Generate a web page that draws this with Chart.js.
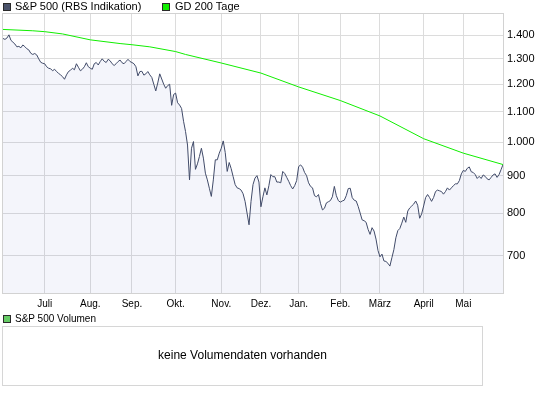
<!DOCTYPE html>
<html>
<head>
<meta charset="utf-8">
<script src="https://cdn.jsdelivr.net/npm/chart.js@4.4.1/dist/chart.umd.min.js"></script>
<style>
body { margin: 0; background: #fff; font-family: Arial, "Liberation Sans", sans-serif; }
#wrap { position: relative; width: 545px; height: 395px; overflow: hidden; }
#c { position: absolute; left: 0; top: 0; }
.lg { position: absolute; color: #000; white-space: nowrap; }
.sq { position: absolute; width: 6px; height: 6px; border: 1px solid #2a2a2a; }
#vol { position: absolute; left: 2px; top: 326px; width: 479px; height: 58px; border: 1px solid #d6d6d6; background: #fff; }
#voltxt { position: absolute; left: 0; top: 21px; width: 479px; text-align: center; font-size: 12px; line-height: 14px; color: #000; }
</style>
</head>
<body>
<div id="wrap">
  <canvas id="c" width="545" height="315"></canvas>
  <div class="sq" style="left:3px;top:3px;background:#4b536b"></div>
  <div class="lg" style="left:15px;top:0px;font-size:11px;line-height:12px">S&amp;P 500 (RBS Indikation)</div>
  <div class="sq" style="left:162px;top:3px;background:#11ee00"></div>
  <div class="lg" style="left:175px;top:0px;font-size:11px;line-height:12px">GD 200 Tage</div>

  <div class="sq" style="left:3px;top:315px;background:#66cc66"></div>
  <div class="lg" style="left:15px;top:313px;font-size:10px;line-height:12px">S&amp;P 500 Volumen</div>
  <div id="vol"><div id="voltxt">keine Volumendaten vorhanden</div></div>
</div>
<script>
// Tageswerte (Handelstage 2.6.2008 - 1.6.2009)
let spx = [
  1386,1382,1388,1402,1378,1370,1362,1350,1352,1346,1358,1351,1342,1337,1323,1318,1322,1316,1300,1286,1282, // Juni
  1280,1268,1262,1260,1252,1258,1249,1242,1236,1229,1219,1236,1249,1254,1262,1256,1280,1266,1252,1258,1268,1284,1268, // Juli
  1262,1258,1280,1285,1275,1289,1300,1290,1285,1298,1292,1280,1273,1280,1289,1295,1284,1280,1289,1298,1289, // Aug
  1285,1280,1268,1232,1249,1250,1235,1240,1249,1236,1226,1200,1175,1205,1240,1220,1200,1185,1195,1200,1123,1162, // Sep
  1167,1132,1124,1112,1068,1034,991,888,981,1002,918,934,956,981,951,907,888,865,843,888,946,946,966, // Okt
  981,1004,968,912,938,920,897,875,866,864,860,850,830,800,771,830,875,893,900,882, // Nov
  816,842,866,847,872,903,897,897,882,882,880,912,906,895,884,872,863,872,886, // Dez
  926,931,924,909,900,880,870,866,845,842,848,825,808,812,826,829,832,842,870,845,832, // Jan
  828,831,833,845,864,865,840,833,831,817,800,783,781,777,760,748,764,756,737,711, // Feb
  697,703,688,687,683,677,695,713,740,757,762,775,790,777,805,813,818,823,831,820,787,798, // Maerz
  818,840,848,840,830,840,856,860,858,856,849,856,866,860,866,872,877,877,886,905, // April
  915,912,921,925,911,909,903,892,898,892,902,898,891,888,895,902,905,895,903,917,932 // Mai + 1.6.
];

// GD 200 (Tag, Wert)
let gdDay   = [0, 15, 21, 30, 44, 59, 65, 74, 87, 92, 110, 130, 149, 170, 190, 212, 232, 252];
let gdValue = [1426, 1420, 1416, 1406, 1380, 1364, 1359, 1350, 1330, 1318, 1283, 1243, 1190, 1140, 1086, 1011, 966, 932];

let monthLabels = ['Juli','Aug.','Sep.','Okt.','Nov.','Dez.','Jan.','Feb.','März','April','Mai'];
let monthStart  = [21, 44, 65, 87, 110, 130, 149, 170, 190, 212, 232];
let yTicks = [700, 800, 900, 1000, 1100, 1200, 1300, 1400];

function fmt(v){
    if(v >= 1000){
        return Math.floor(v/1000) + '.' + String(v % 1000).padStart(3,'0');
    }
    return String(v);
}

// Rahmen um die Zeichenflaeche
const frame = {
    id: 'frame',
    afterDraw(chart){
        let a = chart.chartArea, g = chart.ctx;
        g.save();
        g.strokeStyle = '#d2d2d2';
        g.lineWidth = 1;
        g.strokeRect(a.left - 0.5, a.top - 0.5, a.right - a.left + 1, a.bottom - a.top + 1);
        g.restore();
    }
};

let ctx = document.getElementById('c').getContext('2d');
let chart = new Chart(ctx, {
    type: 'line',
    data: {
        datasets: [
            {
                label: 'GD 200 Tage',
                data: gdDay.map((d,i) => ({x: d, y: gdValue[i]})),
                borderColor: '#11ee00',
                borderWidth: 1,
                pointRadius: 0,
                fill: false
            },
            {
                label: 'S&P 500 (RBS Indikation)',
                data: spx.map((v,i) => ({x: i, y: v})),
                borderColor: '#414b69',
                backgroundColor: 'rgba(60, 80, 180, 0.06)',
                borderWidth: 1,
                pointRadius: 0,
                fill: 'start'
            }
        ]
    },
    options: {
        responsive: false,
        animation: false,
        layout: { padding: { left: 3, top: 14, right: 0, bottom: 0 } },
        plugins: { legend: { display: false }, tooltip: { enabled: false } },
        scales: {
            x: {
                type: 'linear',
                min: 0,
                max: 252,
                grid: { color: '#dcdcdc', drawTicks: false },
                border: { display: false },
                afterBuildTicks: s => { s.ticks = monthStart.map(v => ({value: v})); },
                ticks: {
                    autoSkip: false, maxRotation: 0, padding: 5, color: '#000',
                    font: { size: 10, family: 'Arial' },
                    callback: v => monthLabels[monthStart.indexOf(v)]
                },
                afterFit: s => { s.height = 22; }
            },
            y: {
                type: 'logarithmic',
                position: 'right',
                min: 622,
                max: 1497,
                grid: { color: '#dcdcdc', drawTicks: false },
                border: { display: false },
                afterBuildTicks: s => { s.ticks = yTicks.map(v => ({value: v})); },
                ticks: {
                    autoSkip: false, padding: 4, color: '#000',
                    font: { size: 11, family: 'Arial' },
                    callback: v => fmt(v)
                },
                afterFit: s => { s.width = 42; }
            }
        }
    },
    plugins: [frame]
});
</script>
</body>
</html>
